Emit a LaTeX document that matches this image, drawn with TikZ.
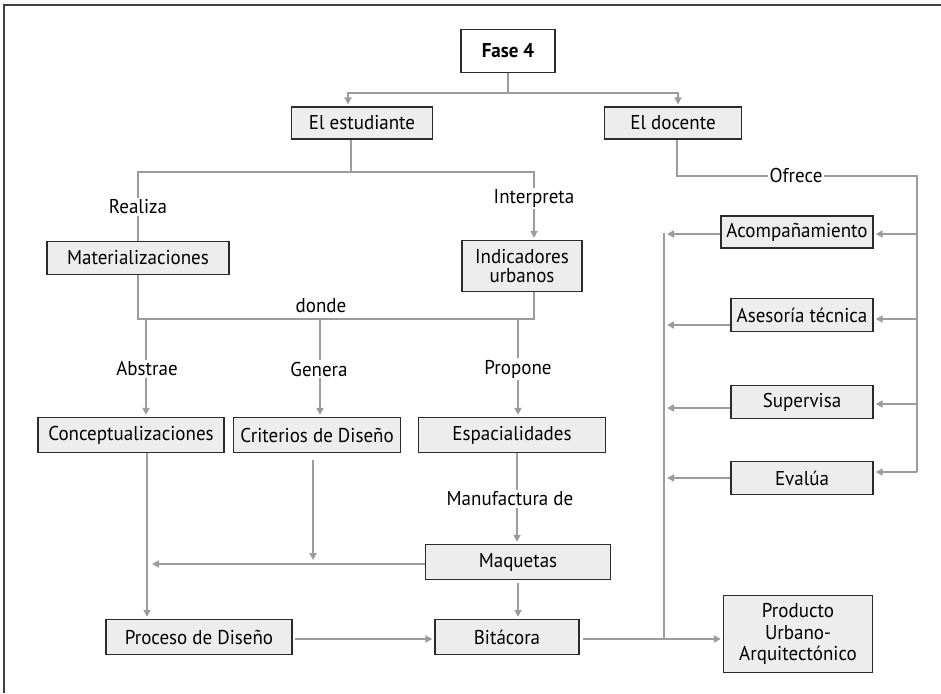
\documentclass[tikz,border=0pt]{standalone}
\usepackage{fontspec}
\setmainfont{PT Sans}[FakeStretch=0.95]
\usetikzlibrary{arrows.meta,calc}
\definecolor{lgray}{HTML}{9C9C9C}
\definecolor{bord}{HTML}{2B2B2B}
\definecolor{boxfill}{HTML}{EDEDED}
\newcommand\dgfs{\fontsize{20}{18.5}\selectfont}
\begin{document}
\begin{tikzpicture}[x=1pt,y=-1pt,
  ln/.style={draw=lgray,line width=2.8pt},
  arr/.style={ln,-{Triangle[length=7pt,width=7pt]},shorten >=2pt},
  box/.style={draw=bord,fill=boxfill,line width=1.3pt,inner sep=0pt,align=center,font=\dgfs},
  lab/.style={fill=white,inner sep=1.5pt,font=\dgfs},
]
\useasboundingbox (0,0) rectangle (941,693);
\draw[draw=bord!90,line width=1.3pt] (4,693) -- (4,5) -- (941,5);

% nodes
\node[box,font=\dgfs\bfseries,fill=white,minimum width=94pt,minimum height=43pt] (fase) at (508,51) {Fase 4};
\node[box,minimum width=141pt,minimum height=32pt] (est) at (362,123) {El estudiante};
\node[box,minimum width=137pt,minimum height=32pt] (doc) at (673,123) {El docente};
\node[box,minimum width=182pt,minimum height=33pt] (mat) at (138,258) {Materializaciones};
\node[box,minimum width=120pt,minimum height=51pt] (ind) at (522,266) {Indicadores\\urbanos};
\node[box,minimum width=186pt,minimum height=35pt] (con) at (131,435) {Conceptualizaciones};
\node[box,minimum width=167pt,minimum height=35pt] (cri) at (317,435) {Criterios de Diseño};
\node[box,minimum width=187pt,minimum height=35pt] (esp) at (512,435) {Espacialidades};
\node[box,minimum width=185pt,minimum height=35pt] (maq) at (518,562) {Maquetas};
\node[box,minimum width=186pt,minimum height=35pt] (pro) at (199,637) {Proceso de Diseño};
\node[box,minimum width=144pt,minimum height=35pt] (bit) at (507,637) {Bitácora};
\node[box,minimum width=152pt,minimum height=32pt] (aco) at (797,232) {Acompañamiento};
\node[box,minimum width=142pt,minimum height=33pt] (ase) at (802,315) {Asesoría técnica};
\node[box,minimum width=142pt,minimum height=33pt] (sup) at (802,402) {Supervisa};
\node[box,minimum width=142pt,minimum height=33pt] (eva) at (802,478) {Evalúa};
\node[box,minimum width=149pt,minimum height=77pt] (prod) at (798,634) {Producto\\[3pt]Urbano-\\[3pt]Arquitectónico};

% Fase 4 split
\coordinate (j1) at (508,93);
\draw[ln] (fase.south) -- (j1);
\draw[arr] (j1) -| ([xshift=-14pt]est.north);
\draw[arr] (j1) -| ([xshift=5pt]doc.north);

% El estudiante split
\coordinate (j2) at (351,172);
\draw[ln] ([xshift=-11pt]est.south) -- (j2);
\draw[ln] (j2) -| (mat.north);
\draw[arr] (j2) -| ([xshift=12pt]ind.north);
\node[lab] (lrea) at (138,207) {Realiza};
\node[lab] (lint) at (534,198) {Interpreta};

% donde
\coordinate (d1) at (138,319);
\coordinate (d2) at (534,319);
\draw[ln] (mat.south) -- (d1) -- (d2) -- ([xshift=12pt]ind.south);
\node[font=\dgfs,inner sep=1pt] (ldon) at (321,306) {donde};

\coordinate (b1) at (146,319);
\coordinate (b2) at (320,319);
\coordinate (b3) at (518,319);
\draw[arr] (b1) -- ([xshift=15pt]con.north);
\draw[arr] (b2) -- ([xshift=3pt]cri.north);
\draw[arr] (b3) -- ([xshift=6pt]esp.north);
\node[lab] (labs) at (147,369) {Abstrae};
\node[lab] (lgen) at (319,369) {Genera};
\node[lab] (lpro) at (518,369) {Propone};

% lower left
\draw[arr] ([xshift=16pt]con.south) -- ([xshift=-52pt]pro.north);
\coordinate (c1) at (313,562);
\draw[arr,shorten <=7pt] ([xshift=-4pt]cri.south) -- (c1);
\coordinate (m1) at (150,564);
\draw[arr] ([yshift=-2pt]maq.west) -- (m1);
\draw[arr] ([xshift=5pt]esp.south) -- ([xshift=-1pt]maq.north);
\node[lab] (lman) at (510,499) {Manufactura de};
\draw[arr,shorten <=3pt] (maq.south) -- ([xshift=11pt]bit.north);
\draw[arr,shorten <=2pt] ([yshift=-2pt]pro.east) -- ([yshift=-2pt]bit.west);

% Bitacora to producto and collector
\coordinate (v0) at (664,639);
\coordinate (vt) at (664,233);
\draw[ln,shorten <=3pt] ([yshift=-2pt]bit.east) -- (v0);
\draw[arr] (v0) -- (prod.west |- v0);
\draw[ln] (v0) -- (vt);
\coordinate (l1) at (665,234);
\coordinate (l2) at (665,325);
\coordinate (l3) at (665,408);
\coordinate (l4) at (665,478);
\draw[arr] ([yshift=-2pt]aco.west) -- (l1);
\draw[arr] ([yshift=-10pt]ase.west) -- (l2);
\draw[arr] ([yshift=-6pt]sup.west) -- (l3);
\draw[arr] (eva.west) -- (l4);

% El docente ofrece
\coordinate (o1) at (677,176);
\coordinate (o2) at (917,176);
\coordinate (o3) at (917,472);
\draw[ln] ([xshift=4pt]doc.south) -- (o1) -- (o2) -- (o3);
\node[lab] (lofr) at (796,175) {Ofrece};
\coordinate (r1) at (917,234);
\coordinate (r2) at (917,319);
\coordinate (r3) at (917,404);
\coordinate (r4) at (917,472);
\draw[arr] (r1) -- ([yshift=-2pt]aco.east);
\draw[arr] (r2) -- ([yshift=-4pt]ase.east);
\draw[arr] (r3) -- ([yshift=-2pt]sup.east);
\draw[arr] (r4) -- ([yshift=6pt]eva.east);
\end{tikzpicture}
\end{document}
